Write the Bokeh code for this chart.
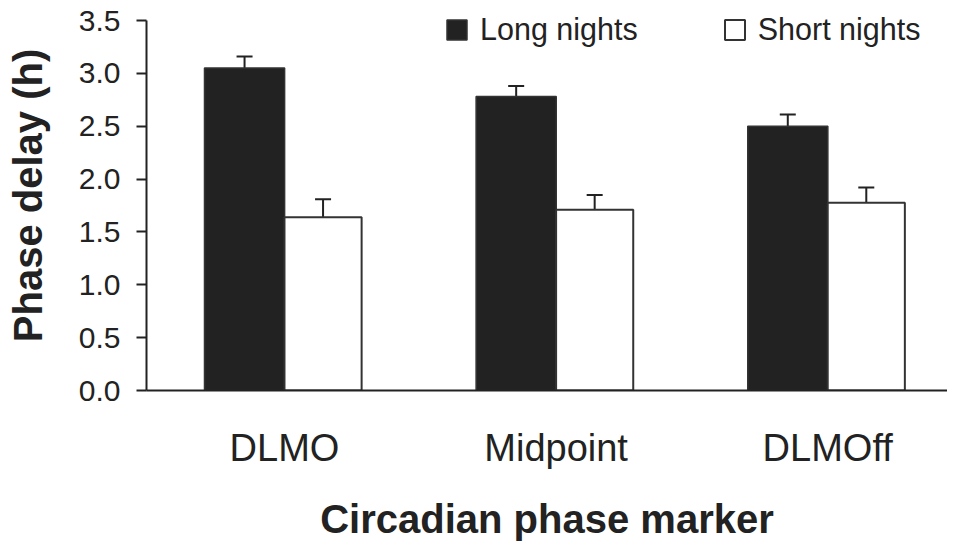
from bokeh.plotting import figure
from bokeh.models import (ColumnDataSource, Range1d, FixedTicker, Whisker, TeeHead,
                          Legend, LegendItem)
from bokeh.embed import file_html
from bokeh.resources import INLINE

# ---- data ----
markers = ["DLMO", "Midpoint", "DLMOff"]
long_nights = [3.05, 2.78, 2.50]
long_err = [0.11, 0.10, 0.11]
short_nights = [1.64, 1.71, 1.775]
short_err = [0.17, 0.14, 0.145]
y_ticks = [0.0, 0.5, 1.0, 1.5, 2.0, 2.5, 3.0, 3.5]
y_max = 3.5

pos = list(range(len(markers)))
off_long = -0.147
off_short = 0.142
w_long = 0.295
w_short = 0.284

src_long = ColumnDataSource(dict(
    x=[p_ + off_long for p_ in pos], top=long_nights,
    up=[v + e for v, e in zip(long_nights, long_err)]))
src_short = ColumnDataSource(dict(
    x=[p_ + off_short for p_ in pos], top=short_nights,
    up=[v + e for v, e in zip(short_nights, short_err)]))

INK = "#222222"
FONT = "Liberation Sans"

# frame 390px tall; the axis itself stops at 3.5 (20px below the frame top)
p = figure(width=947, height=544, output_backend="svg", toolbar_location=None,
           x_range=Range1d(-0.508, 2.441), y_range=Range1d(0, y_max * 390 / 370),
           min_border_left=146, min_border_right=0, min_border_top=0,
           min_border_bottom=154)
p.outline_line_color = None
p.grid.grid_line_color = None
p.background_fill_color = "white"

r1 = p.vbar(x="x", top="top", width=w_long, bottom=0, source=src_long,
            fill_color=INK, line_color="#333333", line_width=1.5)
r2 = p.vbar(x="x", top="top", width=w_short, bottom=0, source=src_short,
            fill_color="white", line_color="#333333", line_width=2)

for src in (src_long, src_short):
    wk = Whisker(base="x", lower="top", upper="up", source=src, dimension="height",
                 line_color=INK, line_width=2, lower_head=None,
                 upper_head=TeeHead(size=16, line_color=INK, line_width=2))
    p.add_layout(wk)

# x axis
xa = p.xaxis[0]
xa.ticker = FixedTicker(ticks=pos, minor_ticks=[])
xa.major_label_overrides = {i: m for i, m in zip(pos, markers)}
xa.major_tick_out = 0
xa.major_tick_in = 0
xa.minor_tick_out = 0
xa.minor_tick_in = 0
xa.axis_line_color = INK
xa.axis_line_width = 2
xa.major_label_text_font = FONT
xa.major_label_text_font_size = "38px"
xa.major_label_text_color = INK
xa.major_label_standoff = 36
xa.axis_label = "Circadian phase marker"
xa.axis_label_text_font = FONT
xa.axis_label_text_font_style = "bold"
xa.axis_label_text_font_size = "40px"
xa.axis_label_text_color = INK
xa.axis_label_standoff = 25

# y axis
ya = p.yaxis[0]
ya.bounds = (0, y_max)
ya.ticker = FixedTicker(ticks=y_ticks, minor_ticks=[])
ya.major_label_overrides = {t: f"{t:.1f}" for t in y_ticks}
ya.major_tick_out = 10
ya.major_tick_in = 0
ya.major_tick_line_color = INK
ya.major_tick_line_width = 2
ya.minor_tick_out = 0
ya.minor_tick_in = 0
ya.axis_line_color = INK
ya.axis_line_width = 2
ya.major_label_text_font = FONT
ya.major_label_text_font_size = "30px"
ya.major_label_text_color = INK
ya.major_label_standoff = 16
ya.axis_label = "Phase delay (h)"
ya.axis_label_text_font = FONT
ya.axis_label_text_font_style = "bold"
ya.axis_label_text_font_size = "40px"
ya.axis_label_text_color = INK
ya.axis_label_standoff = 26

legend = Legend(items=[LegendItem(label="Long nights", renderers=[r1]),
                       LegendItem(label="Short nights", renderers=[r2])],
                orientation="horizontal", location=(298, 343),
                glyph_width=25, glyph_height=25, label_standoff=11, spacing=84,
                padding=0, margin=0, border_line_color=None,
                background_fill_alpha=0,
                label_text_font=FONT, label_text_font_size="30.5px",
                label_text_color=INK)
p.add_layout(legend)

open("out.html", "w").write(file_html(p, INLINE))
